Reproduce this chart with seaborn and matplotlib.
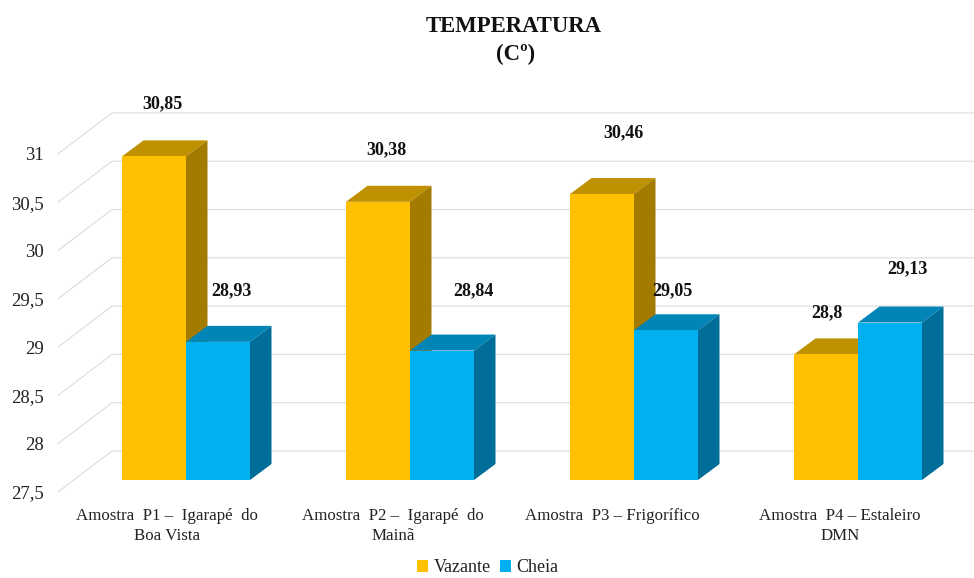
import numpy as np
import pandas as pd
import matplotlib
matplotlib.use("Agg")
import matplotlib.pyplot as plt
import matplotlib.transforms as mtrans
from matplotlib.patches import Polygon
import seaborn as sns

# Data
categories = [
    "Amostra  P1 –  Igarapé  do\nBoa Vista",
    "Amostra  P2 –  Igarapé  do\nMainã",
    "Amostra  P3 – Frigorífico",
    "Amostra  P4 – Estaleiro\nDMN",
]
vazante = [30.85, 30.38, 30.46, 28.8]
cheia = [28.93, 28.84, 29.05, 29.13]
y_ticks = [27.5, 28, 28.5, 29, 29.5, 30, 30.5, 31]

# Pixel layout of the fake 3D box
W, H = 974, 578
PX_CAT = 224.0    # pixels per category
PX_VAL = 96.6     # pixels per temperature unit
LEFT, BASE = 74, 480
DEPTH_X, DEPTH_Y = 21.5, 16

COLORS = {"Vazante": "#FFC000", "Cheia": "#00B0F0"}
TOPS = {"Vazante": "#BF9000", "Cheia": "#0085B6"}
SIDES = {"Vazante": "#A37B00", "Cheia": "#006E98"}

# (dx, dy) pixel offset of each value label from the top centre of its bar
label_offsets = {
    "Vazante": [(8, 53), (8, 52), (21, 61), (1, 42)],
    "Cheia": [(13, 51), (31, 60), (6, 40), (17, 54)],
}
tick_shift = [-19, -17, -22, -18]

df = pd.DataFrame({
    "categoria": categories * 2,
    "periodo": ["Vazante"] * 4 + ["Cheia"] * 4,
    "temp": vazante + cheia,
})

sns.set_theme(style="white")
plt.rcParams["font.family"] = ["Liberation Serif", "DejaVu Serif"]

fig = plt.figure(figsize=(W / 100, H / 100), dpi=100)
ax = fig.add_axes([LEFT / W, 1 - BASE / H, 4 * PX_CAT / W, 3.5 * PX_VAL / H])

sns.barplot(
    data=df, x="categoria", y="temp", hue="periodo",
    hue_order=["Vazante", "Cheia"], palette=COLORS,
    width=128 / PX_CAT, gap=0, saturation=1, linewidth=0,
    ax=ax, zorder=3,
)
ax.set_xlim(-0.5, 3.5)
ax.set_ylim(27.5, 31)

dx = DEPTH_X / PX_CAT
dy = DEPTH_Y / PX_VAL

# Back wall grid and the diagonal lines on the left side
wall_x0 = -0.5 + (112 - LEFT) / PX_CAT
wall_x1 = -0.5 + (W - LEFT) / PX_CAT
start_x = -0.5 + (58 - LEFT) / PX_CAT
wall_up = 29 / PX_VAL
front_down = 12 / PX_VAL
for v in y_ticks:
    ax.plot([start_x, wall_x0, wall_x1], [v - front_down, v + wall_up, v + wall_up],
            color="#DCDCDC", lw=0.8, clip_on=False, zorder=1)

# Top and side faces built from the bars seaborn drew (bars stay clipped at the axis floor)
for name, container in zip(["Vazante", "Cheia"], ax.containers):
    offsets = label_offsets[name]
    values = vazante if name == "Vazante" else cheia
    for i, bar in enumerate(container):
        x0, x1 = bar.get_x(), bar.get_x() + bar.get_width()
        y0 = 27.5
        y1 = bar.get_height()
        top = [(x0, y1), (x1, y1), (x1 + dx, y1 + dy), (x0 + dx, y1 + dy)]
        side = [(x1, y0), (x1 + dx, y0 + dy), (x1 + dx, y1 + dy), (x1, y1)]
        ax.add_patch(Polygon(top, fc=TOPS[name], lw=0, clip_on=False, zorder=2))
        ax.add_patch(Polygon(side, fc=SIDES[name], lw=0, clip_on=False, zorder=2))

        ox, oy = offsets[i]
        ax.annotate(
            f"{values[i]:g}".replace(".", ","),
            xy=((x0 + x1) / 2, y1), xytext=(ox * 0.72, oy * 0.72),
            textcoords="offset points", ha="center", va="center",
            fontsize=13, fontweight="bold", color="#111111",
            annotation_clip=False, zorder=5,
        )

sns.despine(ax=ax, left=True, bottom=True)
ax.set_xlabel("")
ax.set_ylabel("")
ax.grid(False)

ax.set_yticks(y_ticks)
ax.set_yticklabels([f"{v:g}".replace(".", ",") for v in y_ticks], fontsize=13.5, color="#222222")
ax.tick_params(axis="y", length=0, pad=22)
ax.tick_params(axis="x", length=0, pad=20)
ax.set_xticks(range(4))
ax.set_xticklabels(categories, fontsize=12.2, color="#222222", linespacing=1.36)

for lab in ax.get_yticklabels():
    lab.set_transform(lab.get_transform() + mtrans.ScaledTranslation(0, -12 / 100, fig.dpi_scale_trans))
for lab, shift in zip(ax.get_xticklabels(), tick_shift):
    lab.set_transform(lab.get_transform() + mtrans.ScaledTranslation(shift / 100, 0, fig.dpi_scale_trans))

fig.text(514 / W, 1 - 27 / H, "TEMPERATURA", ha="center", va="center",
         fontsize=16.4, fontweight="bold", color="#111111")
fig.text(516 / W, 1 - 54 / H, "(Cº)", ha="center", va="center",
         fontsize=16.4, fontweight="bold", color="#111111")

handles, labels = ax.get_legend_handles_labels()
ax.get_legend().remove()
fig.legend(handles, labels, loc="center", bbox_to_anchor=(488 / W, 1 - 568 / H),
           ncol=2, frameon=False, fontsize=13, handlelength=0.6, handleheight=0.6,
           handletextpad=0.3, columnspacing=0.52, labelcolor="#222222",
           borderpad=0, borderaxespad=0)

fig.savefig("out.png", dpi=100, facecolor="white")
plt.close(fig)
